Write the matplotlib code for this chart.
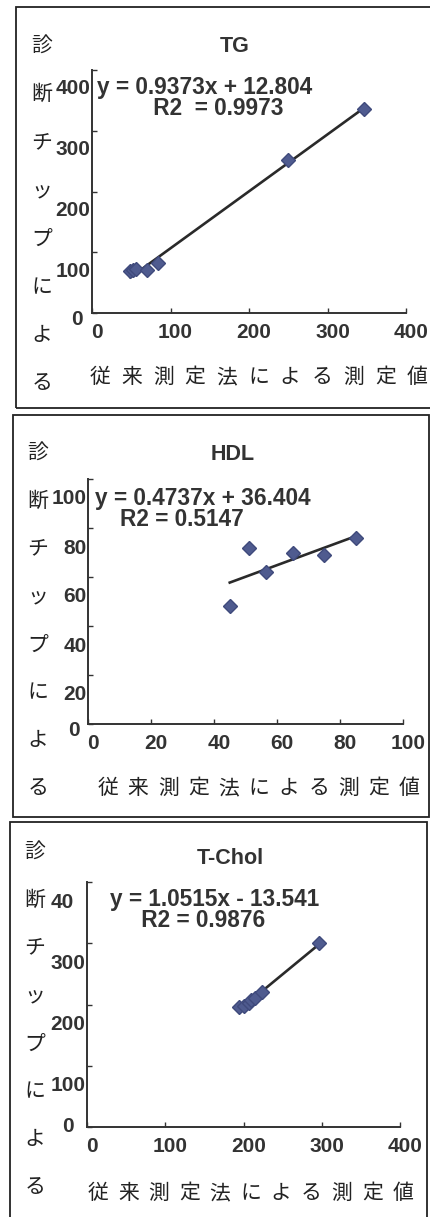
import numpy as np
import matplotlib.pyplot as plt
from matplotlib.patches import Rectangle
from matplotlib.transforms import ScaledTranslation

plt.rcParams['font.family'] = ['Liberation Sans', 'DejaVu Sans']

# --- data -------------------------------------------------------------
tg_x = [49, 52, 56, 70, 84, 250, 347]
tg_y = [69, 70, 72, 70, 83, 252, 335]
tg_fit = (0.9373, 12.804, '0.9973')

hdl_x = [45, 51, 56.5, 65, 75, 85]
hdl_y = [48, 72, 62, 70, 69, 76]
hdl_fit = (0.4737, 36.404, '0.5147')

tchol_x = [194, 200, 207, 210, 215, 224, 297]
tchol_y = [196, 197, 203, 208, 210, 220, 300]
tchol_fit = (1.0515, -13.541, '0.9876')

ticks_400 = [0, 100, 200, 300, 400]
ticks_100 = [0, 20, 40, 60, 80, 100]
ylab = '診断チップによる'
xlab = '従来測定法による測定値'

# --- layout (pixels) --------------------------------------------------
W, H = 430, 1217
fig = plt.figure(figsize=(W / 100, H / 100), dpi=100)
fig.patch.set_facecolor('white')

TXT = '#333333'
JP = ['Noto Sans CJK JP', 'DejaVu Sans']


def fx(x):
    return x / W


def fy(y):
    return 1 - y / H


def shift(lab, dx, dy):
    lab.set_transform(lab.get_transform() +
                      ScaledTranslation(dx / 100, -dy / 100, fig.dpi_scale_trans))


def panel(box, axbox, xs, ys, fit, xticks, yticks, ylabels, title, title_xy,
          eq_xy, r2_indent, r2_sep, y_off, jp_col, jp_row):
    # frame around the panel
    x0, y0, x1, y1 = box
    fig.patches.append(Rectangle((fx(x0), fy(y1)), fx(x1 - x0), (y1 - y0) / H,
                                 transform=fig.transFigure, fill=False,
                                 edgecolor='#222222', linewidth=1.3))

    l, t, r, b = axbox
    ax = fig.add_axes([fx(l), fy(b), fx(r - l), (b - t) / H])
    ax.set_xlim(xticks[0], xticks[-1])
    ax.set_ylim(yticks[0], yticks[-1])
    for s in ['top', 'right']:
        ax.spines[s].set_visible(False)
    for s in ['left', 'bottom']:
        ax.spines[s].set_color('#333333')
        ax.spines[s].set_linewidth(1.4)
    ax.patch.set_alpha(0)

    ax.tick_params(direction='in', length=3.5, width=1, color='#333333',
                   labelsize=15, labelcolor=TXT)
    ax.tick_params(axis='y', pad=1)
    ax.tick_params(axis='x', pad=7)
    ax.set_xticks(xticks)
    ax.set_yticks(yticks)
    ax.set_xticklabels([str(v) for v in xticks], fontweight='bold')
    ax.set_yticklabels(ylabels, fontweight='bold')
    for lab in ax.get_xticklabels():
        shift(lab, 5, 0)
    for lab, (dx, dy) in zip(ax.get_yticklabels(), y_off):
        shift(lab, dx, dy)

    # points and trend line
    a, c, r2 = fit
    ax.plot(xs, ys, linestyle='none', marker='D', markersize=7,
            markerfacecolor='#4f5b8f', markeredgecolor='#3f4a7c', zorder=3)
    xx = np.array([min(xs), max(xs)])
    ax.plot(xx, a * xx + c, color='#2a2a2a', linewidth=1.9, zorder=2)

    # trend-line equation and R2, two stacked lines (anchored on the R2 baseline)
    sign = '+' if c >= 0 else '-'
    eq = f'y = {a}x {sign} {abs(c)}\n{" " * r2_indent}R2{r2_sep}= {r2}'
    fig.text(fx(eq_xy[0]), fy(eq_xy[1]), eq, fontsize=16.3, fontweight='bold',
             color=TXT, va='baseline', ha='left', multialignment='left',
             linespacing=0.9)
    fig.text(fx(title_xy[0]), fy(title_xy[1]), title, fontsize=15.5,
             fontweight='bold', color=TXT, ha='center', va='center')

    # vertical y-axis caption, one character per line
    cx, cy0, cy1 = jp_col
    for ch, yy in zip(ylab, np.linspace(cy0, cy1, len(ylab))):
        fig.text(fx(cx), fy(yy), ch, family=JP, fontsize=15, color='#222222',
                 ha='center', va='center')
    # spaced x-axis caption
    ry, rx0, rx1 = jp_row
    for ch, xx_ in zip(xlab, np.linspace(rx0, rx1, len(xlab))):
        fig.text(fx(xx_), fy(ry), ch, family=JP, fontsize=15, color='#222222',
                 ha='center', va='center')
    return ax


y_off_400 = [(-8, 4), (0, 17), (0, 17), (0, 17), (0, 17)]
y_off_100 = [(-7, 4), (0, 18), (0, 18), (0, 18), (0, 18), (0, 18)]
y_off_tc = [(-12, -2), (0, 18), (0, 18), (0, 18), (-12, 18)]

panel((16, 7, 445, 408), (92, 70, 406, 313), tg_x, tg_y, tg_fit,
      ticks_400, ticks_400, [str(v) for v in ticks_400], 'TG', (235, 46),
      (97, 115), 9, '  ', y_off_400, (42, 46, 383), (377, 100, 417))

panel((13, 415, 429, 817), (88, 479, 403, 724), hdl_x, hdl_y, hdl_fit,
      ticks_100, ticks_100, [str(v) for v in ticks_100], 'HDL', (233, 454),
      (95, 526), 4, ' ', y_off_100, (38, 453, 788), (788, 108, 409))

panel((10, 822, 427, 1240), (87, 882, 400, 1127), tchol_x, tchol_y, tchol_fit,
      ticks_400, ticks_400, ['0', '100', '200', '300', '40'], 'T-Chol', (230, 858),
      (110, 927), 5, ' ', y_off_tc, (35, 852, 1187), (1193, 98, 403))

fig.savefig('out.png', dpi=100)
